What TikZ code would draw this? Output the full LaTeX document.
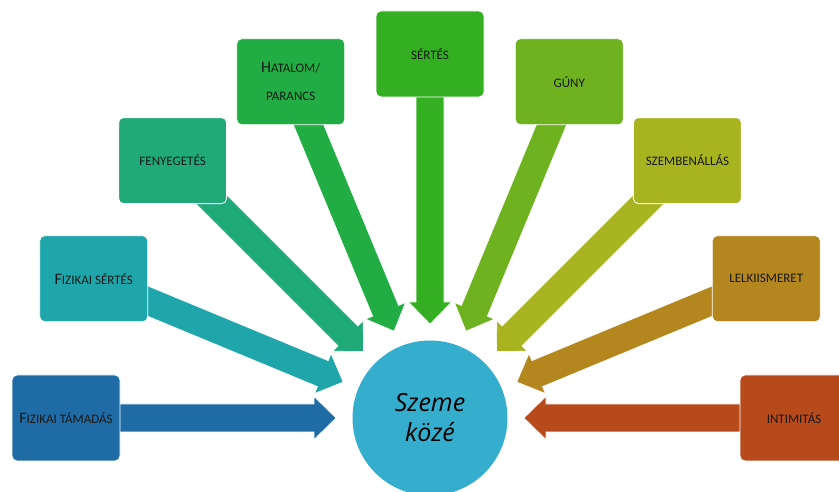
\documentclass[tikz,border=0pt]{standalone}
\usepackage{fontspec}
\setmainfont{Carlito}
\newfontfamily\hubfont{Open Sans}
\usetikzlibrary{calc,backgrounds}
\definecolor{hubc}{RGB}{53,174,206}
\definecolor{ca}{RGB}{31,107,166}
\definecolor{cb}{RGB}{30,166,170}
\definecolor{cc}{RGB}{32,170,122}
\definecolor{cd}{RGB}{33,173,68}
\definecolor{ce}{RGB}{52,175,33}
\definecolor{cf}{RGB}{110,178,31}
\definecolor{cg}{RGB}{168,180,31}
\definecolor{ch}{RGB}{180,134,30}
\definecolor{ci}{RGB}{183,74,26}
\newcommand\capl[1]{{\fontsize{16}{18}\selectfont #1}}
\newcommand\blockarr[3]{%
  \coordinate (hb) at ($(#2)!22pt!(#1)$);
  \path[fill=#3, draw=white, line width=0.6pt]
    ($(#1)!14pt!90:(#2)$) -- ($(hb)!14pt!-90:(#1)$) -- ($(hb)!21.5pt!-90:(#1)$) -- (#2)
    -- ($(hb)!21.5pt!90:(#1)$) -- ($(hb)!14pt!90:(#1)$) -- ($(#1)!14pt!-90:(#2)$) -- cycle;
}
\tikzset{
  box/.style={rounded corners=5pt, draw=white, line width=0.8pt, minimum width=108pt,
    minimum height=86pt, inner sep=0pt, text=black!90, align=center,
    font=\fontsize{13}{15}\selectfont},
  hub/.style={circle, fill=hubc, minimum size=155pt, inner sep=0pt, text=black,
    font=\hubfont\itshape\fontsize{25}{30}\selectfont, align=center}
}
\begin{document}
\begin{tikzpicture}[x=1pt,y=1pt]
\useasboundingbox (0,0) rectangle (839,492);
\node[hub] (hub) at (430,74) {Szeme\\közé};
\node[box, fill=ca] (b1) at ($(hub.center)+(180:364)$) {\capl{F}IZIKAI TÁMADÁS};
\node[box, fill=cb] (b2) at ($(hub.center)+(157.5:364)$) {\capl{F}IZIKAI SÉRTÉS};
\node[box, fill=cc] (b3) at ($(hub.center)+(135:364)$) {FENYEGETÉS};
\node[box, fill=cd, font=\fontsize{13}{28}\selectfont] (b4) at ($(hub.center)+(112.5:364)$) {\capl{H}ATALOM/\\PARANCS};
\node[box, fill=ce] (b5) at ($(hub.center)+(90:364)$) {SÉRTÉS};
\node[box, fill=cf] (b6) at ($(hub.center)+(67.5:364)$) {GÚNY};
\node[box, fill=cg] (b7) at ($(hub.center)+(45:364)$) {SZEMBENÁLLÁS};
\node[box, fill=ch] (b8) at ($(hub.center)+(22.5:364)$) {LELKIISMERET};
\node[box, fill=ci] (b9) at ($(hub.center)+(0:364)$) {INTIMITÁS};
\begin{pgfonlayer}{background}
\foreach \i/\c in {1/ca,2/cb,3/cc,4/cd,5/ce,6/cf,7/cg,8/ch,9/ci}{
  \coordinate (t\i) at ($(hub.center)!94pt!(b\i.center)$);
  \blockarr{b\i.center}{t\i}{\c}
}
\end{pgfonlayer}
\end{tikzpicture}
\end{document}
